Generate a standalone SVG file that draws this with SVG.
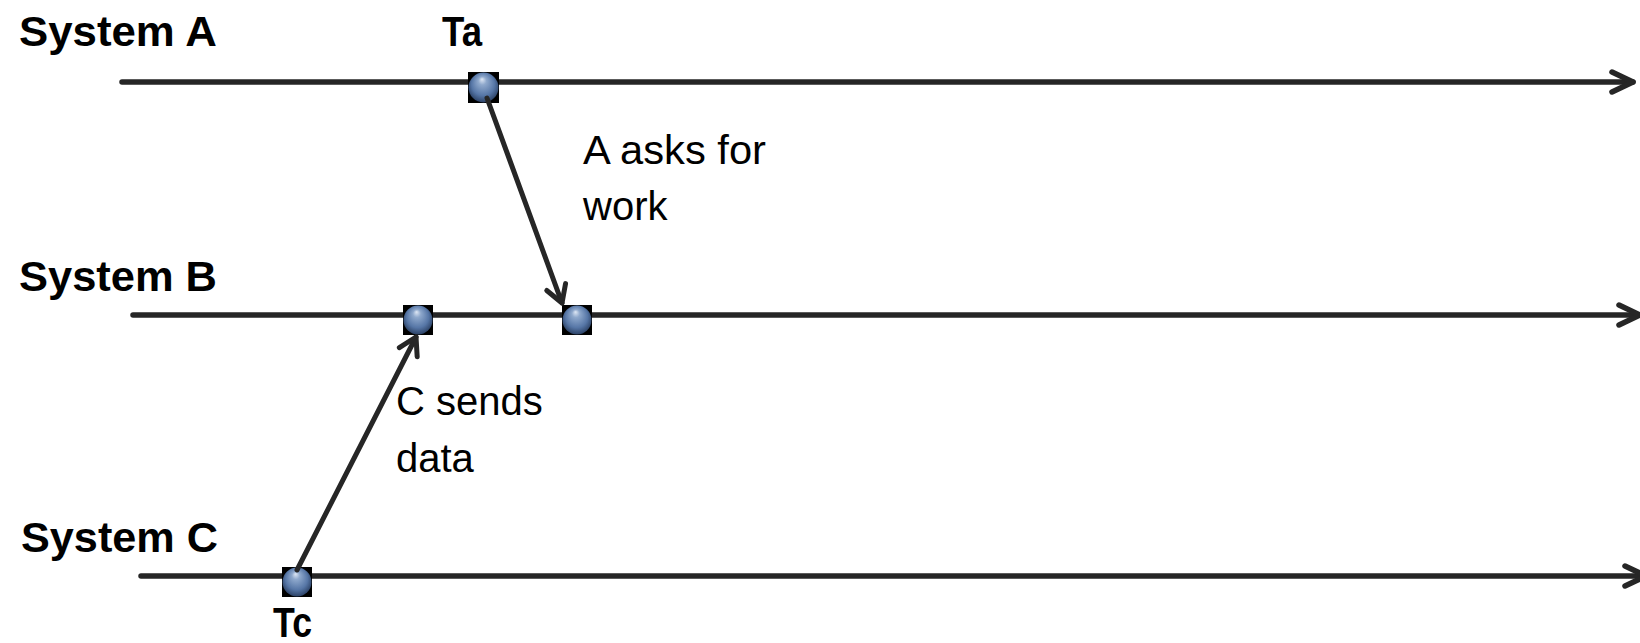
<svg xmlns="http://www.w3.org/2000/svg" width="1640" height="643" viewBox="0 0 1640 643">
  <defs>
    <style>
      .timeline { stroke: #262626; stroke-width: 5.5; stroke-linecap: round; fill: none; }
      .msg { stroke: #262626; stroke-width: 5; stroke-linecap: round; fill: none; }
      .label { font-family: "Liberation Sans", Arial, sans-serif; font-weight: bold; font-size: 43px; fill: #000; }
      .note { font-family: "Liberation Sans", Arial, sans-serif; font-size: 40px; fill: #000; }
      .box { fill: #000; }
      .ball { fill: url(#ballGrad); }
    </style>
    <radialGradient id="ballGrad" cx="50%" cy="45%" r="55%" fx="45%" fy="22%">
      <stop offset="0" stop-color="#dfe8f5"/>
      <stop offset="0.25" stop-color="#8ea8cc"/>
      <stop offset="0.7" stop-color="#5676a6"/>
      <stop offset="1" stop-color="#2c4266"/>
    </radialGradient>
    <marker id="axisHead" markerUnits="userSpaceOnUse" viewBox="-26 -14 30 28" refX="0" refY="0" markerWidth="30" markerHeight="28" orient="auto">
      <path d="M -21 -10 L 0 0 L -21 10" fill="none" stroke="#262626" stroke-width="5.5" stroke-linecap="round" stroke-linejoin="round"/>
    </marker>
    <marker id="msgHead" markerUnits="userSpaceOnUse" viewBox="-22 -14 26 28" refX="0" refY="0" markerWidth="26" markerHeight="28" orient="auto">
      <path d="M -17 -10 L 0 0 L -17 10" fill="none" stroke="#262626" stroke-width="5" stroke-linecap="round" stroke-linejoin="round"/>
    </marker>
  </defs>

  <rect width="1640" height="643" fill="#ffffff"/>

  <!-- system names -->
  <g id="labels">
    <text class="label" x="19" y="46" textLength="198" lengthAdjust="spacingAndGlyphs">System A</text>
    <text class="label" x="19" y="291" textLength="198" lengthAdjust="spacingAndGlyphs">System B</text>
    <text class="label" x="21" y="552" textLength="197" lengthAdjust="spacingAndGlyphs">System C</text>
  </g>

  <!-- time axes -->
  <g id="timelines">
    <line class="timeline" x1="122" y1="82" x2="1633" y2="82" marker-end="url(#axisHead)"/>
    <line class="timeline" x1="133" y1="315" x2="1640" y2="315" marker-end="url(#axisHead)"/>
    <line class="timeline" x1="141" y1="576" x2="1646" y2="576" marker-end="url(#axisHead)"/>
  </g>

  <!-- events -->
  <g id="node-ta">
    <rect class="box" x="468" y="72" width="31" height="31"/>
    <circle class="ball" cx="483.5" cy="87.5" r="15"/>
    <text class="label" x="442" y="46" textLength="40" lengthAdjust="spacingAndGlyphs">Ta</text>
  </g>
  <g id="node-b1">
    <rect class="box" x="403" y="305" width="30" height="30"/>
    <circle class="ball" cx="418" cy="320" r="14.5"/>
  </g>
  <g id="node-b2">
    <rect class="box" x="562" y="305" width="30" height="30"/>
    <circle class="ball" cx="577" cy="320" r="14.5"/>
  </g>
  <g id="node-tc">
    <rect class="box" x="282" y="567" width="30" height="30"/>
    <circle class="ball" cx="297" cy="582" r="14.5"/>
    <text class="label" x="273" y="637" textLength="39" lengthAdjust="spacingAndGlyphs">Tc</text>
  </g>

  <!-- messages -->
  <g id="connectors">
    <line class="msg" x1="487" y1="98" x2="562" y2="303" marker-end="url(#msgHead)"/>
    <line class="msg" x1="297" y1="570" x2="416" y2="337" marker-end="url(#msgHead)"/>
  </g>

  <g id="notes">
    <text class="note" x="583" y="164" textLength="183" lengthAdjust="spacingAndGlyphs">A asks for</text>
    <text class="note" x="583" y="220">work</text>
    <text class="note" x="396" y="415">C sends</text>
    <text class="note" x="396" y="472">data</text>
  </g>
</svg>
